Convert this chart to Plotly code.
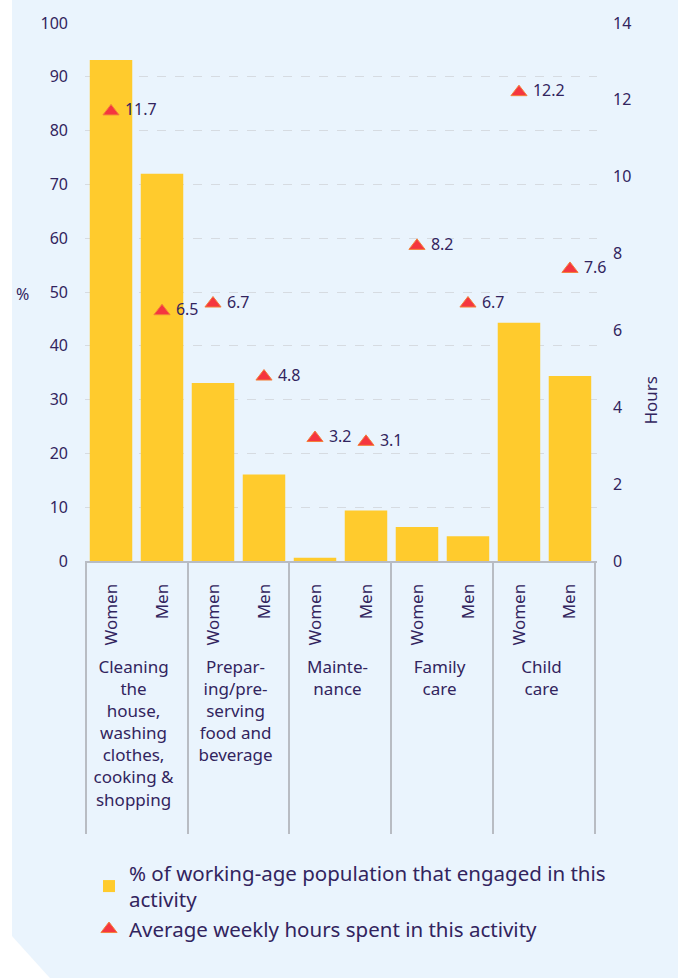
import plotly.graph_objects as go

activities = ["Cleaning<br>the<br>house,<br>washing<br>clothes,<br>cooking &<br>shopping<br>\u00a0",
              "Prepar-<br>ing/pre-<br>serving<br>food and<br>beverage",
              "Mainte-<br>nance",
              "Family<br>care",
              "Child<br>care"]
sexes = ["\u00a0\u00a0Women", "\u00a0\u00a0Men"]
pct_engaged = [93.1, 72.0, 33.1, 16.1, 0.6, 9.4, 6.3, 4.6, 44.3, 34.4]
weekly_hours = [11.7, 6.5, 6.7, 4.8, 3.2, 3.1, 8.2, 6.7, 12.2, 7.6]
hour_labels = ["11.7", "6.5", "6.7", "4.8", "3.2", "3.1", "8.2", "6.7", "12.2", "7.6"]

x_outer = [a for a in activities for _ in sexes]
x_inner = [s for _ in activities for s in sexes]

W, H = 678, 978
ML, MR, MT, MB = 85, 81, 21, 417
PW, PH = W - ML - MR, H - MT - MB

def px(x):
    return (x - ML) / PW

def py(y):
    return (H - MB - y) / PH

TXT = "#32245e"
FONT = "Noto Sans"

fig = go.Figure()
fig.add_trace(go.Bar(
    x=[x_outer, x_inner], y=pct_engaged,
    name="% of working-age population that engaged in this<br>activity",
    marker=dict(color="#ffcb2d", line=dict(width=0)),
))
fig.add_trace(go.Scatter(
    x=[x_outer, x_inner], y=weekly_hours, yaxis="y2",
    mode="markers+text", text=["\u00a0" + t for t in hour_labels],
    textposition="middle right",
    textfont=dict(size=16, color=TXT, family=FONT),
    marker=dict(symbol="triangle-up", size=14, color="#f5363f",
                line=dict(color="#f3803a", width=1)),
    name="Average weekly hours spent in this activity",
    cliponaxis=False,
))

shapes = [
    dict(type="rect", xref="paper", yref="paper", x0=px(-5), x1=px(12), y0=py(-5), y1=py(H + 5),
         fillcolor="white", line=dict(width=0), layer="below"),
    dict(type="path", xref="paper", yref="paper",
         path=f"M {px(11.5)} {py(937)} L {px(53)} {py(H + 5)} L {px(11.5)} {py(H + 5)} Z",
         fillcolor="white", line=dict(width=0), layer="below"),
]

fig.update_layout(
    width=W, height=H,
    margin=dict(l=ML, r=MR, t=MT, b=MB, pad=0),
    paper_bgcolor="#eaf4fd", plot_bgcolor="#eaf4fd",
    font=dict(family=FONT, color=TXT, size=16),
    bargap=0.167,
    showlegend=True,
    legend=dict(x=px(89), y=py(854), xanchor="left", yanchor="top",
                font=dict(size=20.5, color=TXT, family=FONT),
                bgcolor="rgba(0,0,0,0)", tracegroupgap=0, itemwidth=30),
    xaxis=dict(type="multicategory", range=[-0.51, 9.53],
               tickangle=-90, tickfont=dict(size=17, color=TXT),
               showline=True, linecolor="#b8bcc3", linewidth=2,
               showdividers=True, dividercolor="#b8bcc3", dividerwidth=1.5,
               ticks="", showgrid=False, zeroline=False, ticklabelstandoff=14),
    yaxis=dict(range=[0, 100], dtick=10, showgrid=True, gridcolor="#d6dbe1",
               griddash="dash", gridwidth=1, zeroline=False,
               tickfont=dict(size=16, color=TXT), ticklabelstandoff=16),
    yaxis2=dict(range=[0, 14], dtick=2, overlaying="y", side="right",
                showgrid=False, zeroline=False,
                tickfont=dict(size=16, color=TXT), ticklabelstandoff=15),
    shapes=shapes,
    annotations=[
        dict(text="%", xref="paper", yref="paper", x=px(22), y=py(293),
             xanchor="center", yanchor="middle",
             showarrow=False, font=dict(size=16, color=TXT)),
        dict(text="Hours", xref="paper", yref="paper", x=px(651), y=py(400),
             xanchor="center", yanchor="middle",
             showarrow=False, textangle=-90, font=dict(size=17, color=TXT)),
    ],
)

fig.write_html("out.html", config={"displayModeBar": False},
               post_script="document.body.style.margin='0';")
